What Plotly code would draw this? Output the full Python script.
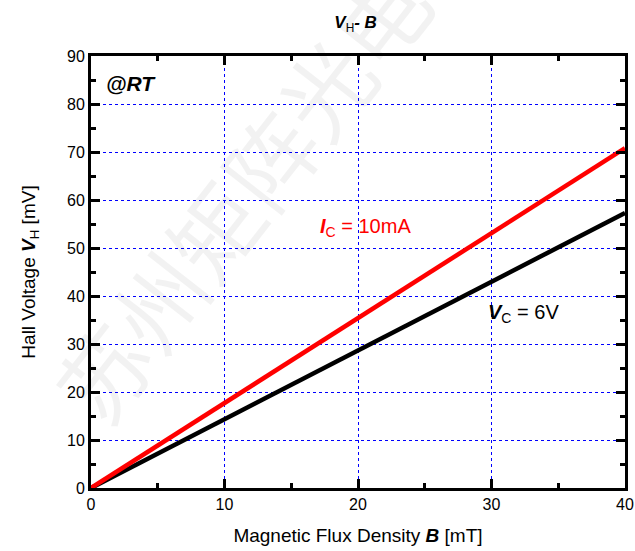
import plotly.graph_objects as go

B = [0, 5, 10, 15, 20, 25, 30, 35, 40]
V_ic = [0, 8.85, 17.7, 26.5, 35.4, 44.2, 53.1, 61.9, 70.8]
V_vc = [0, 7.15, 14.3, 21.5, 28.65, 35.8, 43.0, 50.1, 57.3]

font = "Liberation Sans, Arial, sans-serif"

fig = go.Figure()
fig.add_trace(go.Scatter(x=B, y=V_vc, mode="lines", line=dict(color="black", width=4.5), showlegend=False))
fig.add_trace(go.Scatter(x=B, y=V_ic, mode="lines", line=dict(color="#ff0000", width=4.5), showlegend=False))

axis_common = dict(
    showline=True, linecolor="black", linewidth=3, mirror="ticks",
    ticks="inside", ticklen=9, tickwidth=2.5, tickcolor="black",
    showgrid=True, gridcolor="#0000ff", griddash="dot", gridwidth=1,
    zeroline=False, tickfont=dict(family=font, size=16, color="black"),
    automargin=False,
)

fig.update_xaxes(range=[0, 40], dtick=10, tick0=0,
                 minor=dict(dtick=5, ticklen=5, tickwidth=2.5, tickcolor="black", ticks="inside", showgrid=False),
                 title=dict(text="Magnetic Flux Density <b><i>B</i></b> [mT]", font=dict(family=font, size=19, color="black"), standoff=17),
                 **axis_common)
fig.update_yaxes(range=[0, 90], dtick=10, tick0=0,
                 minor=dict(dtick=5, ticklen=5, tickwidth=2.5, tickcolor="black", ticks="inside", showgrid=False),
                 title=dict(text="Hall Voltage <b><i>V</i></b><sub>H</sub> [mV]", font=dict(family=font, size=19, color="black"), standoff=27),
                 **axis_common)

fig.add_annotation(text="苏州矩阵光电", xref="paper", yref="paper", x=0.28, y=0.68,
                   xanchor="center", yanchor="middle",
                   textangle=-52, showarrow=False,
                   font=dict(family="Noto Sans CJK SC", size=90, color="rgba(0,0,0,0.05)"))

fig.add_annotation(text="<b><i>@RT</i></b>", x=1.0, y=84.3, xanchor="left", yanchor="middle",
                   showarrow=False, font=dict(family=font, size=21, color="black"))
fig.add_annotation(text="<b><i>I</i></b><sub>C</sub> = 10mA", x=17.0, y=54.2, xanchor="left", yanchor="middle",
                   showarrow=False, font=dict(family=font, size=20, color="#ff0000"))
fig.add_annotation(text="<b><i>V</i></b><sub>C</sub> = 6V", x=29.6, y=36.3, xanchor="left", yanchor="middle",
                   showarrow=False, font=dict(family=font, size=20, color="black"))

fig.update_layout(
    width=635, height=551,
    margin=dict(l=91, r=10, t=56, b=63),
    paper_bgcolor="white", plot_bgcolor="white",
    title=dict(text="<b><i>V</i></b><sub>H</sub><b><i>- B</i></b>", x=0.56, xanchor="center",
               y=0.96, yanchor="middle", yref="container",
               font=dict(family=font, size=17, color="black")),
)

fig.write_html("out.html", config={"displayModeBar": False},
               post_script="document.body.style.margin='0';")
